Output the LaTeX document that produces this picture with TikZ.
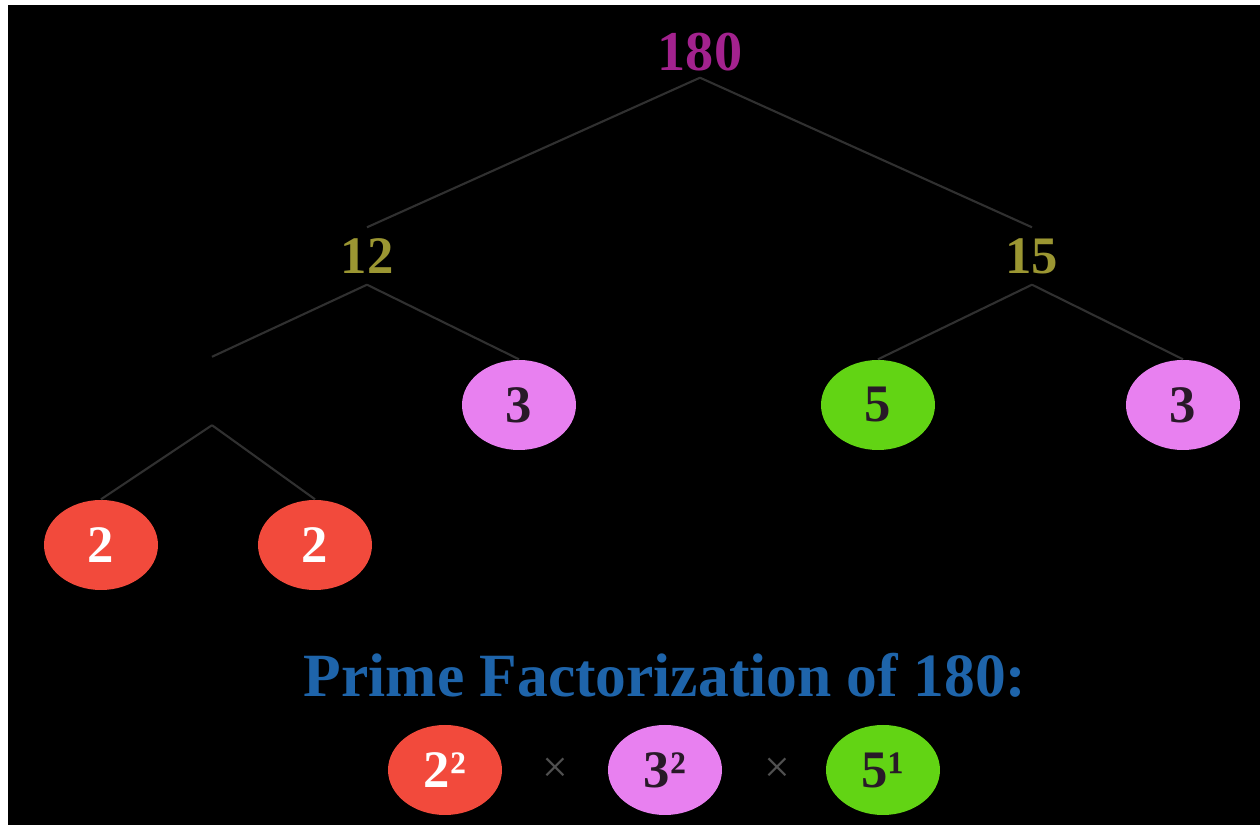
\documentclass[tikz,border=0pt]{standalone}
\usepackage{fontspec}
\setmainfont{Liberation Serif}
\usetikzlibrary{shapes.geometric}
\definecolor{pfmagenta}{RGB}{163,34,142}
\definecolor{pfolive}{RGB}{155,150,50}
\definecolor{pfpink}{RGB}{232,128,240}
\definecolor{pfred}{RGB}{242,74,60}
\definecolor{pfgreen}{RGB}{98,212,20}
\definecolor{pfblue}{RGB}{30,100,170}
\definecolor{pfline}{RGB}{48,48,48}
\definecolor{pfdark}{RGB}{40,25,40}
\definecolor{pfgray}{RGB}{80,80,80}

\begin{document}
\begin{tikzpicture}[
    numlabel/.style={font=\bfseries\fontsize{15}{18}\selectfont,
                     minimum height=0.56cm, inner sep=1pt},
    factor/.style={ellipse, fill=#1, minimum width=1.14cm, minimum height=0.90cm,
                   inner sep=0pt, font=\bfseries\fontsize{15}{18}\selectfont},
    branch/.style={draw=pfline, line width=0.6pt}]
% Frame
\fill[white] (0,0) rectangle (12.6,8.25);
\fill[black] (0.08,0) rectangle (12.6,8.20);
\useasboundingbox (0,0) rectangle (12.6,8.25);
% Tree
\node[numlabel, text=pfmagenta, font=\bfseries\fontsize{16}{19}\selectfont,
      minimum height=0.5cm] (n180) at (7.00,7.73) {180};
\node[numlabel, text=pfolive] (n12) at (3.67,5.69) {12};
\node[numlabel, text=pfolive] (n15) at (10.32,5.69) {15};
\node[minimum height=0.67cm, inner sep=0pt] (n4) at (2.12,4.34) {};
\node[factor=pfpink, text=pfdark] (n3a) at (5.19,4.20) {3};
\node[factor=pfgreen, text=pfdark] (n5) at (8.78,4.20) {5};
\node[factor=pfpink, text=pfdark] (n3b) at (11.83,4.20) {3};
\node[factor=pfred, text=white] (n2a) at (1.01,2.80) {2};
\node[factor=pfred, text=white] (n2b) at (3.15,2.80) {2};
\draw[branch] (n180.south) -- (n12.north);
\draw[branch] (n180.south) -- (n15.north);
\draw[branch] (n12.south) -- (n4.north);
\draw[branch] (n12.south) -- (n3a.north);
\draw[branch] (n15.south) -- (n5.north);
\draw[branch] (n15.south) -- (n3b.north);
\draw[branch] (n4.south) -- (n2a.north);
\draw[branch] (n4.south) -- (n2b.north);
% Result
\node[text=pfblue, font=\bfseries\fontsize{17.5}{21}\selectfont] (title) at (6.65,1.50)
    {Prime Factorization of 180:};
\node[factor=pfred, text=white] (p2) at (4.45,0.55) {2²};
\node[text=pfgray, font=\fontsize{13}{15}\selectfont] (x1) at (5.55,0.55) {×};
\node[factor=pfpink, text=pfdark] (p3) at (6.65,0.55) {3²};
\node[text=pfgray, font=\fontsize{13}{15}\selectfont] (x2) at (7.77,0.55) {×};
\node[factor=pfgreen, text=pfdark] (p5) at (8.83,0.55) {5¹};
\end{tikzpicture}
\end{document}
